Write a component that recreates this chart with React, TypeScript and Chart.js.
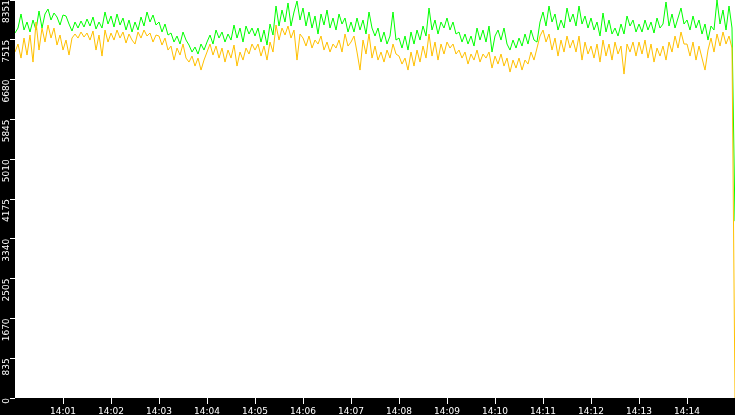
import { useEffect, useRef } from 'react';
import { Chart, registerables } from 'chart.js';

Chart.register(...registerables);

// one sample every 3.75 s, 16 per minute, starting at 14:00
const SAMPLES_PER_MINUTE = 16;
const START_HOUR = 14;
const Y_MAX = 8351;
const yTickValues = [0, 835, 1670, 2505, 3340, 4175, 5010, 5845, 6680, 7515, 8351];

const greenSeries = [
  7658, 7763, 8057, 7721, 7889, 7679, 7931, 7721, 8120, 7763, 8057, 8162, 7931, 8078, 7994, 7826,
  8036, 8015, 7847, 7700, 7889, 7763, 7910, 7784, 7952, 7805, 7994, 7742, 7889, 7763, 8099, 7847,
  8015, 7784, 8057, 7826, 7973, 7721, 7931, 7679, 7889, 7721, 7994, 7805, 8099, 7889, 8036, 7826,
  7889, 7679, 7847, 7616, 7658, 7469, 7595, 7427, 7679, 7511, 7406, 7259, 7364, 7217, 7427, 7301,
  7469, 7616, 7427, 7721, 7553, 7679, 7469, 7637, 7511, 7826, 7553, 7763, 7469, 7805, 7637, 7763,
  7595, 7763, 7469, 7721, 7406, 7847, 7616, 8225, 7805, 8141, 7889, 8288, 7805, 8099, 8330, 7931,
  8183, 7805, 8099, 7763, 8015, 7637, 8057, 7826, 8141, 7763, 7973, 7721, 8057, 7847, 7973, 7679,
  7889, 7679, 7973, 7721, 7931, 7637, 8099, 7763, 7595, 7763, 7469, 7679, 7427, 7595, 8099, 7511,
  7553, 7343, 7595, 7301, 7679, 7427, 7721, 7511, 7805, 7595, 8183, 7721, 7931, 7637, 7889, 7763,
  7973, 7721, 7889, 7637, 7679, 7469, 7637, 7427, 7595, 7385, 7763, 7511, 7721, 7469, 7805, 7259,
  7595, 7721, 7511, 7763, 7427, 7301, 7511, 7343, 7553, 7385, 7637, 7427, 7721, 7511, 7469, 7889,
  8099, 7805, 8225, 7889, 8057, 7721, 7931, 7763, 8183, 7889, 8057, 7805, 8225, 7847, 8015, 7763,
  7973, 7721, 7889, 7595, 8078, 7679, 7931, 7637, 7763, 7595, 7847, 7637, 8015, 7805, 7931, 7679,
  7847, 7679, 7931, 7721, 7889, 7658, 7973, 7763, 7847, 8309, 7805, 8057, 7763, 7973, 8183, 7847,
  7931, 7721, 8015, 7763, 7931, 7637, 7847, 7511, 7805, 7721, 8351, 7847, 8141, 7721, 8225, 7763,
  3710,
];

const orangeSeries = [
  7259, 7427, 7133, 7553, 7196, 7616, 7049, 7889, 7301, 7763, 7469, 7826, 7553, 7763, 7406, 7616,
  7301, 7511, 7196, 7553, 7637, 7553, 7679, 7574, 7658, 7511, 7700, 7301, 7616, 7175, 7721, 7469,
  7658, 7511, 7721, 7553, 7679, 7448, 7637, 7511, 7427, 7679, 7553, 7721, 7595, 7658, 7469, 7616,
  7595, 7406, 7553, 7301, 7385, 7091, 7343, 7196, 7427, 7133, 7049, 7175, 6965, 7133, 6881, 7091,
  7259, 7427, 7196, 7385, 7133, 7343, 7049, 7301, 7133, 7406, 6965, 7259, 7091, 7343, 7217, 7427,
  7301, 7427, 7175, 7385, 7091, 7469, 7259, 7826, 7511, 7763, 7616, 7805, 7553, 7721, 7091, 7637,
  7553, 7385, 7595, 7343, 7511, 7427, 7595, 7301, 7469, 7259, 7427, 7343, 7511, 7259, 7637, 7385,
  7469, 7595, 7259, 6881, 7511, 7217, 7637, 7133, 7385, 7091, 7259, 7049, 7301, 7133, 7427, 7217,
  7175, 7007, 7133, 6881, 7259, 6965, 7301, 7049, 7385, 7133, 7637, 7175, 7469, 7091, 7427, 7217,
  7469, 7343, 7427, 7217, 7301, 7133, 7259, 7007, 7217, 7091, 7301, 7049, 7217, 7133, 7259, 6923,
  7175, 7007, 7217, 6965, 7133, 6839, 7091, 6923, 7133, 6881, 7091, 7007, 7259, 7091, 7343, 7595,
  7721, 7469, 7637, 7301, 7553, 7175, 7511, 7259, 7595, 7343, 7511, 7259, 7595, 7091, 7469, 7217,
  7385, 7133, 7427, 7049, 7511, 7175, 7427, 7091, 7469, 7217, 7385, 6797, 7427, 7259, 7469, 7175,
  7469, 7217, 7511, 7133, 7427, 7049, 7343, 7175, 7385, 7091, 7469, 7259, 7595, 7343, 7679, 7427,
  7427, 7175, 7469, 7091, 7385, 7133, 6881, 7301, 7553, 7259, 7637, 7385, 7679, 7427, 7595, 7343,
  0,
];

const LAST_INDEX = greenSeries.length - 1;
const AXIS_FONT = { family: 'DejaVu Sans', size: 9 };

// black page, white plot area
const plotBackground = {
  id: 'plotBackground',
  beforeDraw(chart: any) {
    const { ctx, chartArea, width, height } = chart;
    ctx.save();
    ctx.fillStyle = '#000';
    ctx.fillRect(0, 0, width, height);
    ctx.fillStyle = '#fff';
    ctx.fillRect(chartArea.left, chartArea.top, chartArea.right - chartArea.left, chartArea.bottom - chartArea.top);
    ctx.restore();
  },
};

export default function App() {
  const canvasRef = useRef<HTMLCanvasElement | null>(null);

  useEffect(() => {
    if (!canvasRef.current) return;

    const chart = new Chart(canvasRef.current, {
      type: 'line',
      data: {
        datasets: [
          {
            label: 'orange',
            data: orangeSeries.map((v, i) => ({ x: i, y: v })),
            borderColor: '#ffc000',
            borderWidth: 1,
            pointRadius: 0,
            tension: 0,
            fill: false,
            order: 0,
          },
          {
            label: 'green',
            data: greenSeries.map((v, i) => ({ x: i, y: v })),
            borderColor: '#00ff00',
            borderWidth: 1,
            pointRadius: 0,
            tension: 0,
            fill: false,
            order: 1,
          },
        ],
      },
      options: {
        responsive: false,
        animation: false,
        layout: { padding: 0 },
        plugins: {
          legend: { display: false },
          tooltip: { enabled: false },
        },
        scales: {
          x: {
            type: 'linear',
            min: 0,
            max: LAST_INDEX,
            afterBuildTicks: (axis: any) => {
              axis.ticks = axis.ticks.filter((t: any) => t.value > 0 && t.value < LAST_INDEX);
            },
            afterFit: (axis: any) => {
              axis.height = 17;
              axis.paddingLeft = 0;
              axis.paddingRight = 0;
            },
            ticks: {
              stepSize: SAMPLES_PER_MINUTE,
              autoSkip: false,
              maxRotation: 0,
              padding: 2.5,
              color: '#fff',
              font: AXIS_FONT,
              callback: (v: any) => `${START_HOUR}:${String(Number(v) / SAMPLES_PER_MINUTE).padStart(2, '0')}`,
            },
            grid: { drawOnChartArea: false, drawTicks: true, tickLength: 6, tickColor: '#fff' },
            border: { display: false },
          },
          y: {
            type: 'linear',
            min: 0,
            max: Y_MAX,
            afterBuildTicks: (axis: any) => {
              axis.ticks = yTickValues.map(value => ({ value }));
            },
            afterFit: (axis: any) => {
              axis.width = 15;
              axis.paddingTop = 0;
              axis.paddingBottom = 0;
            },
            ticks: {
              autoSkip: false,
              minRotation: 90,
              maxRotation: 90,
              padding: 3,
              color: '#fff',
              font: AXIS_FONT,
              callback: (v: any) => String(v),
            },
            grid: { drawOnChartArea: false, drawTicks: true, tickLength: 5, tickColor: '#fff' },
            border: { display: false },
          },
        },
      },
      plugins: [plotBackground],
    });

    return () => chart.destroy();
  }, []);

  return (
    <div style={{ position: 'fixed', left: 0, top: 0, width: 735, height: 415, background: '#000' }}>
      <canvas ref={canvasRef} width={735} height={415} style={{ display: 'block' }} />
    </div>
  );
}
